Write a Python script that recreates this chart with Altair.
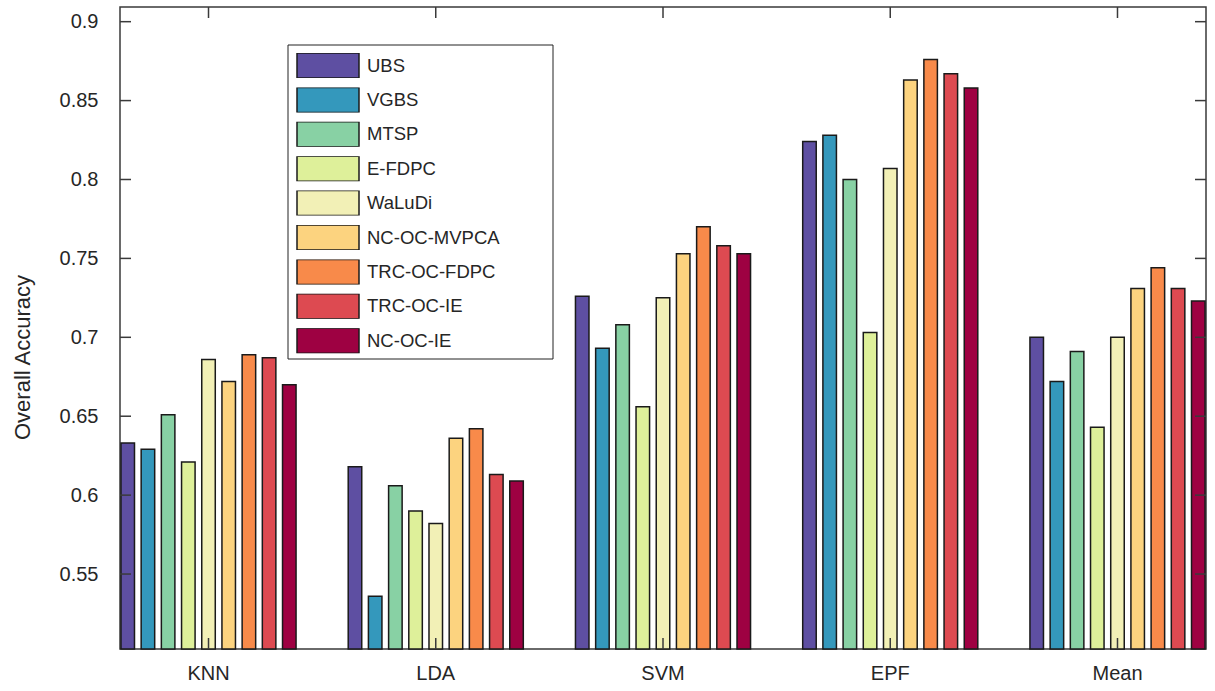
import altair as alt
import pandas as pd

classifiers = ["KNN", "LDA", "SVM", "EPF", "Mean"]
methods = ["UBS", "VGBS", "MTSP", "E-FDPC", "WaLuDi",
           "NC-OC-MVPCA", "TRC-OC-FDPC", "TRC-OC-IE", "NC-OC-IE"]
colors = ["#5e4fa2", "#3498bc", "#88d1a4", "#def09a", "#f2f0b6",
          "#fcd37f", "#f88a4a", "#dd4a51", "#9e0142"]

ubs = [0.633, 0.618, 0.726, 0.824, 0.700]
vgbs = [0.629, 0.536, 0.693, 0.828, 0.672]
mtsp = [0.651, 0.606, 0.708, 0.800, 0.691]
efdpc = [0.621, 0.590, 0.656, 0.703, 0.643]
waludi = [0.686, 0.582, 0.725, 0.807, 0.700]
nc_oc_mvpca = [0.672, 0.636, 0.753, 0.863, 0.731]
trc_oc_fdpc = [0.689, 0.642, 0.770, 0.876, 0.744]
trc_oc_ie = [0.687, 0.613, 0.758, 0.867, 0.731]
nc_oc_ie = [0.670, 0.609, 0.753, 0.858, 0.723]

y_ticks = [0.55, 0.6, 0.65, 0.7, 0.75, 0.8, 0.85, 0.9]
Y_MIN, Y_MAX = 0.5025, 0.9093

series = [ubs, vgbs, mtsp, efdpc, waludi, nc_oc_mvpca, trc_oc_fdpc, trc_oc_ie, nc_oc_ie]
rows = []
for m, vals in zip(methods, series):
    for c, v in zip(classifiers, vals):
        rows.append({"classifier": c, "method": m, "acc": v})
df = pd.DataFrame(rows)

W, H = 1086, 642
TXT = "#262626"
FRAME = "#3a3a3a"

xscale = alt.Scale(domain=classifiers, paddingInner=0.221, paddingOuter=0)
yscale = alt.Scale(domain=[Y_MIN, Y_MAX], nice=False, zero=False)

xaxis = alt.Axis(title=None, labelAngle=0, labelFontSize=20, labelColor=TXT,
                 labelPadding=24, labelBaseline="middle", ticks=False, tickSize=0,
                 domain=False, grid=False)
yaxis = alt.Axis(values=y_ticks, format=".2~f", labelFontSize=20, labelColor=TXT,
                 labelPadding=22, ticks=False, tickSize=0, domain=False, grid=False,
                 title="Overall Accuracy", titleFontSize=22, titleFontWeight="normal",
                 titleColor=TXT, titleX=-98, titleY=350, titleAngle=270,
                 titleBaseline="middle", titleAlign="center")

bars = alt.Chart(df).mark_bar(stroke="#1a1a1a", strokeWidth=1.5).encode(
    x=alt.X("classifier:N", sort=classifiers, scale=xscale, axis=xaxis),
    xOffset=alt.XOffset("method:N", sort=methods,
                        scale=alt.Scale(domain=methods, paddingInner=0.33, paddingOuter=0.048)),
    y=alt.Y("acc:Q", scale=yscale, axis=yaxis),
    y2=alt.datum(Y_MIN),
    color=alt.Color("method:N", sort=methods, scale=alt.Scale(domain=methods, range=colors),
                    legend=alt.Legend(title=None, orient="none", legendX=168, legendY=38,
                                      padding=8, symbolType="M-1,-0.4032H1V0.4032H-1Z",
                                      symbolSize=3844, clipHeight=25, rowPadding=9.4,
                                      labelOffset=7, labelFontSize=18.5, labelColor=TXT,
                                      symbolStrokeColor="#1a1a1a", symbolStrokeWidth=1.5,
                                      symbolOpacity=1, labelLimit=0)),
)

legend_frame = alt.Chart(pd.DataFrame({"k": [0]})).mark_rect(
    fill="white", stroke="#222", strokeWidth=1).encode(
    x=alt.value(168), x2=alt.value(433), y=alt.value(38), y2=alt.value(352))

ytick_df = pd.DataFrame({"acc": y_ticks})
left_ticks = alt.Chart(ytick_df).mark_rule(color=FRAME, strokeWidth=1.5).encode(
    y=alt.Y("acc:Q", scale=yscale, axis=yaxis), x=alt.value(0), x2=alt.value(11))
right_ticks = alt.Chart(ytick_df).mark_rule(color=FRAME, strokeWidth=1.5).encode(
    y=alt.Y("acc:Q", scale=yscale, axis=yaxis), x=alt.value(W - 11), x2=alt.value(W))

xtick_df = pd.DataFrame({"classifier": classifiers})
bottom_ticks = alt.Chart(xtick_df).mark_rule(color=FRAME, strokeWidth=1.5).encode(
    x=alt.X("classifier:N", sort=classifiers, scale=xscale, axis=xaxis),
    y=alt.value(H - 11), y2=alt.value(H))
top_ticks = alt.Chart(xtick_df).mark_rule(color=FRAME, strokeWidth=1.5).encode(
    x=alt.X("classifier:N", sort=classifiers, scale=xscale, axis=xaxis),
    y=alt.value(0), y2=alt.value(11))

chart = alt.layer(bars, legend_frame, left_ticks, right_ticks, bottom_ticks, top_ticks).properties(
    width=W, height=H,
    padding={"left": 120, "top": 7, "right": 9, "bottom": 42},
    autosize=alt.AutoSizeParams(type="none"),
).configure(font="Liberation Sans").configure_view(stroke=FRAME, strokeWidth=1.5)

chart.save("out.html", embed_options={"renderer": "svg", "actions": False})
